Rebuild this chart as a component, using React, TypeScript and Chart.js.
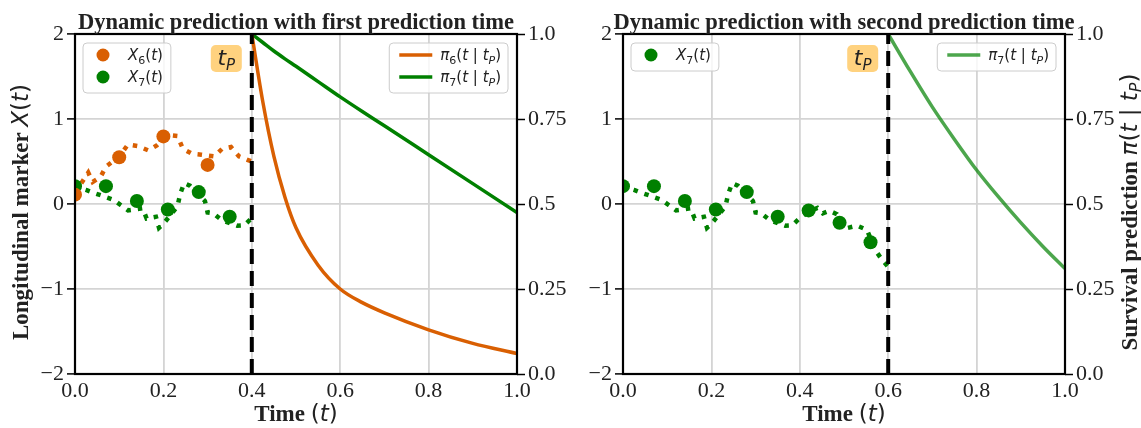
import React, { useEffect, useRef } from 'react';
import { Chart, registerables } from 'chart.js';

Chart.register(...registerables);

// ---- colours & fonts ----
const ORANGE = '#d95f02';
const GREEN = '#008000';
const GREEN_LIGHT = 'rgba(0,128,0,0.7)';
const TEXT = '#222222';
const GRID = '#d4d4d4';
const SERIF = '"Liberation Serif", "Times New Roman", serif';
const SANS = '"DejaVu Sans", sans-serif';

// ---- ticks ----
const TIME_TICKS = [0, 0.2, 0.4, 0.6, 0.8, 1.0];
const TIME_TICK_LABELS = ['0.0', '0.2', '0.4', '0.6', '0.8', '1.0'];
const MARKER_TICKS = [-2, -1, 0, 1, 2];
const MARKER_TICK_LABELS = ['\u22122', '\u22121', '0', '1', '2'];
const SURV_TICKS = [0, 0.25, 0.5, 0.75, 1.0];
const SURV_TICK_LABELS = ['0.0', '0.25', '0.5', '0.75', '1.0'];

// ---- prediction times ----
const T_PRED_FIRST = 0.4;
const T_PRED_SECOND = 0.6;

// ---- observed longitudinal measurements ----
const OBS_T_6 = [0.0, 0.1, 0.2, 0.3];
const OBS_X_6 = [0.11, 0.55, 0.795, 0.46];
const OBS_T_7 = [0.0, 0.07, 0.14, 0.21, 0.28, 0.35, 0.42, 0.49, 0.56];
const OBS_X_7 = [0.21, 0.21, 0.035, -0.065, 0.14, -0.15, -0.075, -0.22, -0.45];

// ---- underlying marker trajectories ----
const PATH_T_6 = [0.0, 0.015, 0.03, 0.04, 0.058, 0.07, 0.085, 0.1, 0.12, 0.143, 0.166, 0.185, 0.2, 0.215, 0.232, 0.244, 0.265, 0.286, 0.315, 0.333, 0.353, 0.371, 0.39, 0.4];
const PATH_X_6 = [0.13, 0.25, 0.37, 0.26, 0.32, 0.44, 0.5, 0.56, 0.7, 0.68, 0.63, 0.69, 0.76, 0.81, 0.8, 0.65, 0.59, 0.58, 0.56, 0.65, 0.67, 0.56, 0.52, 0.5];
const PATH_T_7 = [0.0, 0.016, 0.025, 0.04, 0.06, 0.087, 0.104, 0.12, 0.153, 0.162, 0.183, 0.19, 0.202, 0.232, 0.238, 0.247, 0.26, 0.294, 0.3, 0.313, 0.332, 0.367, 0.383, 0.397, 0.42, 0.44, 0.452, 0.467, 0.484, 0.505, 0.53, 0.552, 0.571, 0.586, 0.6];
const PATH_X_7 = [0.22, 0.18, 0.165, 0.135, 0.1, 0.05, -0.015, -0.075, -0.05, -0.17, -0.15, -0.28, -0.22, -0.025, 0.12, 0.245, 0.215, 0.035, -0.1, -0.11, -0.19, -0.255, -0.25, -0.18, -0.09, -0.045, -0.11, -0.08, -0.12, -0.285, -0.255, -0.305, -0.545, -0.655, -0.74];

// ---- survival predictions ----
const SURV_T_FIRST = [0.4, 0.425, 0.45, 0.475, 0.5, 0.55, 0.6, 0.65, 0.7, 0.8, 0.9, 1.0];
const PI_6_FIRST = [1.0, 0.8, 0.64, 0.52, 0.43, 0.32, 0.25, 0.21, 0.18, 0.13, 0.09, 0.06];
const PI_7_FIRST = [1.0, 0.975, 0.95, 0.927, 0.905, 0.86, 0.815, 0.772, 0.73, 0.645, 0.56, 0.475];
const SURV_T_SECOND = [0.6, 0.65, 0.7, 0.75, 0.8, 0.85, 0.9, 0.95, 1.0];
const PI_7_SECOND = [1.0, 0.89, 0.785, 0.69, 0.6, 0.52, 0.445, 0.375, 0.31];

// ---- rich text helpers (mixed serif / math fonts) ----
type Seg = { s: string; f: string; dy?: number };

const fonts = (size: number) => ({
  rm: `${size}px ${SANS}`,
  it: `italic ${size}px ${SANS}`,
  sub: `${Math.round(size * 0.7)}px ${SANS}`,
  subIt: `italic ${Math.round(size * 0.7)}px ${SANS}`,
  serifBold: `bold ${size}px ${SERIF}`,
});

function segWidth(ctx: CanvasRenderingContext2D, segs: Seg[]) {
  let w = 0;
  for (const g of segs) {
    ctx.font = g.f;
    w += ctx.measureText(g.s).width;
  }
  return w;
}

function drawSegs(
  ctx: CanvasRenderingContext2D,
  segs: Seg[],
  x: number,
  y: number,
  align: 'left' | 'center',
  angle = 0,
) {
  ctx.save();
  ctx.translate(x, y);
  ctx.rotate(angle);
  ctx.fillStyle = TEXT;
  ctx.textAlign = 'left';
  ctx.textBaseline = 'alphabetic';
  let cx = align === 'center' ? -segWidth(ctx, segs) / 2 : 0;
  for (const g of segs) {
    ctx.font = g.f;
    ctx.fillText(g.s, cx, g.dy || 0);
    cx += ctx.measureText(g.s).width;
  }
  ctx.restore();
}

const L = fonts(15);
const markerLabel = (idx: string): Seg[] => [
  { s: 'X', f: L.it },
  { s: idx, f: L.sub, dy: 3.5 },
  { s: '(', f: L.rm },
  { s: 't', f: L.it },
  { s: ')', f: L.rm },
];
const survLabel = (idx: string): Seg[] => [
  { s: '\u03c0', f: L.it },
  { s: idx, f: L.sub, dy: 3.5 },
  { s: '(', f: L.rm },
  { s: 't', f: L.it },
  { s: ' | ', f: L.rm },
  { s: 't', f: L.it },
  { s: 'P', f: L.subIt, dy: 3.5 },
  { s: ')', f: L.rm },
];

const A = fonts(23);
const X_LABEL: Seg[] = [
  { s: 'Time ', f: A.serifBold },
  { s: '(', f: A.rm },
  { s: 't', f: A.it },
  { s: ')', f: A.rm },
];
const Y_LABEL: Seg[] = [
  { s: 'Longitudinal marker ', f: A.serifBold },
  { s: 'X', f: A.it },
  { s: '(', f: A.rm },
  { s: 't', f: A.it },
  { s: ')', f: A.rm },
];
const Y2_LABEL: Seg[] = [
  { s: 'Survival prediction ', f: A.serifBold },
  { s: '\u03c0', f: A.it },
  { s: '(', f: A.rm },
  { s: 't', f: A.it },
  { s: ' | ', f: A.rm },
  { s: 't', f: A.it },
  { s: 'P', f: A.subIt, dy: 4 },
  { s: ')', f: A.rm },
];
const TP_LABEL: Seg[] = [
  { s: 't', f: `italic 22px ${SANS}` },
  { s: 'P', f: `italic 15px ${SANS}`, dy: 5 },
];

function roundRect(ctx: CanvasRenderingContext2D, x: number, y: number, w: number, h: number, r: number) {
  ctx.beginPath();
  ctx.moveTo(x + r, y);
  ctx.lineTo(x + w - r, y);
  ctx.arcTo(x + w, y, x + w, y + r, r);
  ctx.lineTo(x + w, y + h - r);
  ctx.arcTo(x + w, y + h, x + w - r, y + h, r);
  ctx.lineTo(x + r, y + h);
  ctx.arcTo(x, y + h, x, y + h - r, r);
  ctx.lineTo(x, y + r);
  ctx.arcTo(x, y, x + r, y, r);
  ctx.closePath();
}

type Series = { t: number[]; v: number[]; color: string; label: Seg[] };
type PanelSpec = {
  left: number;
  width: number;
  yWidth: number;
  y2Width: number;
  title: string;
  tPred: number;
  obs: Series[];
  paths: { t: number[]; v: number[]; color: string }[];
  surv: Series[];
  yTitle: boolean;
  y2Title: boolean;
};

const pts = (ts: number[], vs: number[]) => ts.map((t, i) => ({ x: t, y: vs[i] }));

const gridColor = (min: number, max: number) => (c: any) =>
  c.tick && (Math.abs(c.tick.value - min) < 1e-9 || Math.abs(c.tick.value - max) < 1e-9)
    ? 'rgba(0,0,0,0)'
    : GRID;

function decorPlugin(spec: PanelSpec) {
  return {
    id: 'panelDecor',
    afterDatasetsDraw(chart: any) {
      const { ctx, chartArea: a } = chart;
      ctx.save();
      ctx.strokeStyle = '#000';
      ctx.lineWidth = 2.2;
      ctx.strokeRect(a.left, a.top, a.right - a.left, a.bottom - a.top);
      ctx.restore();
    },
    afterDraw(chart: any) {
      const { ctx, chartArea: a, scales } = chart;
      const midX = (a.left + a.right) / 2;
      const midY = (a.top + a.bottom) / 2;

      // title
      ctx.save();
      ctx.font = `bold 22.5px ${SERIF}`;
      ctx.fillStyle = TEXT;
      ctx.textAlign = 'center';
      ctx.textBaseline = 'alphabetic';
      ctx.fillText(spec.title, midX, 29);
      ctx.restore();

      // axis titles
      drawSegs(ctx, X_LABEL, midX, 421, 'center');
      if (spec.yTitle) drawSegs(ctx, Y_LABEL, 28, midY + 8, 'center', -Math.PI / 2);
      if (spec.y2Title) drawSegs(ctx, Y2_LABEL, chart.width - 4, midY + 8, 'center', -Math.PI / 2);

      // prediction-time tag
      const px = scales.x.getPixelForValue(spec.tPred);
      ctx.save();
      ctx.fillStyle = 'rgba(255,165,0,0.5)';
      roundRect(ctx, px - 41, a.top + 11, 31, 27, 5);
      ctx.fill();
      ctx.restore();
      drawSegs(ctx, TP_LABEL, px - 25.5, a.top + 31, 'center');

      // marker legend (top-left)
      {
        const top = a.top + 9;
        const left = a.left + 8;
        const tw = Math.max(...spec.obs.map((o) => segWidth(ctx, o.label)));
        const w = 45 + tw + 8;
        const h = 6 + spec.obs.length * 22;
        ctx.save();
        roundRect(ctx, left, top, w, h, 4);
        ctx.fillStyle = 'rgba(255,255,255,0.8)';
        ctx.fill();
        ctx.strokeStyle = '#cccccc';
        ctx.lineWidth = 1;
        ctx.stroke();
        spec.obs.forEach((o, i) => {
          const cy = top + 12 + i * 22;
          ctx.beginPath();
          ctx.arc(left + 20, cy, 6.5, 0, Math.PI * 2);
          ctx.fillStyle = o.color;
          ctx.fill();
          drawSegs(ctx, o.label, left + 45, cy + 5, 'left');
        });
        ctx.restore();
      }

      // survival legend (top-right)
      {
        const top = a.top + 9;
        const tw = Math.max(...spec.surv.map((o) => segWidth(ctx, o.label)));
        const w = 51 + tw + 7;
        const left = a.right - 9 - w;
        const h = 6 + spec.surv.length * 22;
        ctx.save();
        roundRect(ctx, left, top, w, h, 4);
        ctx.fillStyle = 'rgba(255,255,255,0.8)';
        ctx.fill();
        ctx.strokeStyle = '#cccccc';
        ctx.lineWidth = 1;
        ctx.stroke();
        spec.surv.forEach((o, i) => {
          const cy = top + 12 + i * 22;
          ctx.beginPath();
          ctx.moveTo(left + 10, cy);
          ctx.lineTo(left + 43, cy);
          ctx.strokeStyle = o.color;
          ctx.lineWidth = 3.5;
          ctx.stroke();
          drawSegs(ctx, o.label, left + 51, cy + 5, 'left');
        });
        ctx.restore();
      }
    },
  };
}

function buildConfig(spec: PanelSpec): any {
  const datasets: any[] = [];
  datasets.push({
    data: [
      { x: spec.tPred, y: -2 },
      { x: spec.tPred, y: 2 },
    ],
    showLine: true,
    borderColor: '#000',
    borderWidth: 4,
    borderDash: [15, 7],
    borderCapStyle: 'butt',
    pointRadius: 0,
    yAxisID: 'y',
    order: 0,
  });
  spec.obs.forEach((o) =>
    datasets.push({
      data: pts(o.t, o.v),
      showLine: false,
      pointRadius: 7,
      pointBorderWidth: 0,
      backgroundColor: o.color,
      borderColor: o.color,
      yAxisID: 'y',
      clip: 0,
      order: 1,
    }),
  );
  spec.surv.forEach((o) =>
    datasets.push({
      data: pts(o.t, o.v),
      showLine: true,
      borderColor: o.color,
      borderWidth: 3.5,
      pointRadius: 0,
      cubicInterpolationMode: 'monotone',
      yAxisID: 'y2',
      order: 2,
    }),
  );
  spec.paths.forEach((p) =>
    datasets.push({
      data: pts(p.t, p.v),
      showLine: true,
      borderColor: p.color,
      borderWidth: 4.5,
      borderDash: [4.5, 7],
      borderCapStyle: 'butt',
      pointRadius: 0,
      yAxisID: 'y',
      order: 3,
    }),
  );

  const tickFont = { family: SERIF, size: 22 };
  return {
    type: 'scatter',
    data: { datasets },
    plugins: [decorPlugin(spec)],
    options: {
      animation: false,
      responsive: false,
      devicePixelRatio: 1,
      events: [],
      layout: { padding: { top: 34, left: 0, right: 0, bottom: 0 } },
      plugins: { legend: { display: false }, tooltip: { enabled: false }, title: { display: false } },
      scales: {
        x: {
          type: 'linear',
          min: 0,
          max: 1,
          afterBuildTicks: (s: any) => {
            s.ticks = TIME_TICKS.map((v) => ({ value: v }));
          },
          afterFit: (s: any) => {
            s.height = 428 - 374;
          },
          grid: { color: gridColor(0, 1), lineWidth: 1.8, drawTicks: false },
          border: { display: false },
          ticks: {
            font: tickFont,
            color: TEXT,
            padding: 4,
            maxRotation: 0,
            autoSkip: false,
            callback: (_v: any, i: number) => TIME_TICK_LABELS[i],
          },
        },
        y: {
          type: 'linear',
          position: 'left',
          min: -2,
          max: 2,
          afterBuildTicks: (s: any) => {
            s.ticks = MARKER_TICKS.map((v) => ({ value: v }));
          },
          afterFit: (s: any) => {
            s.width = spec.yWidth;
          },
          grid: { color: gridColor(-2, 2), lineWidth: 1.8, tickLength: 8, tickColor: '#000', tickWidth: 1.5 },
          border: { display: false },
          ticks: {
            font: tickFont,
            color: TEXT,
            padding: 3,
            callback: (_v: any, i: number) => MARKER_TICK_LABELS[i],
          },
        },
        y2: {
          type: 'linear',
          position: 'right',
          min: 0,
          max: 1,
          afterBuildTicks: (s: any) => {
            s.ticks = SURV_TICKS.map((v) => ({ value: v }));
          },
          afterFit: (s: any) => {
            s.width = spec.y2Width;
          },
          grid: { drawOnChartArea: false, tickLength: 8, tickColor: '#000', tickWidth: 1.5 },
          border: { display: false },
          ticks: {
            font: tickFont,
            color: TEXT,
            padding: 3,
            callback: (_v: any, i: number) => SURV_TICK_LABELS[i],
          },
        },
      },
    },
  };
}

const upTo = (ts: number[], vs: number[], tMax: number) => {
  const t: number[] = [];
  const v: number[] = [];
  ts.forEach((x, i) => {
    if (x <= tMax + 1e-9) {
      t.push(x);
      v.push(vs[i]);
    }
  });
  return { t, v };
};

const obs7First = upTo(OBS_T_7, OBS_X_7, T_PRED_FIRST);
const path7First = upTo(PATH_T_7, PATH_X_7, T_PRED_FIRST);

const FIRST: PanelSpec = {
  left: 0,
  width: 570,
  yWidth: 75,
  y2Width: 53,
  title: 'Dynamic prediction with first prediction time',
  tPred: T_PRED_FIRST,
  obs: [
    { t: OBS_T_6, v: OBS_X_6, color: ORANGE, label: markerLabel('6') },
    { t: obs7First.t, v: obs7First.v, color: GREEN, label: markerLabel('7') },
  ],
  paths: [
    { t: PATH_T_6, v: PATH_X_6, color: ORANGE },
    { t: path7First.t, v: path7First.v, color: GREEN },
  ],
  surv: [
    { t: SURV_T_FIRST, v: PI_6_FIRST, color: ORANGE, label: survLabel('6') },
    { t: SURV_T_FIRST, v: PI_7_FIRST, color: GREEN, label: survLabel('7') },
  ],
  yTitle: true,
  y2Title: false,
};

const SECOND: PanelSpec = {
  left: 570,
  width: 571,
  yWidth: 53,
  y2Width: 76,
  title: 'Dynamic prediction with second prediction time',
  tPred: T_PRED_SECOND,
  obs: [{ t: OBS_T_7, v: OBS_X_7, color: GREEN, label: markerLabel('7') }],
  paths: [{ t: PATH_T_7, v: PATH_X_7, color: GREEN }],
  surv: [{ t: SURV_T_SECOND, v: PI_7_SECOND, color: GREEN_LIGHT, label: survLabel('7') }],
  yTitle: false,
  y2Title: true,
};

function Panel({ spec }: { spec: PanelSpec }) {
  const ref = useRef<HTMLCanvasElement>(null);
  useEffect(() => {
    const chart = new Chart(ref.current as HTMLCanvasElement, buildConfig(spec));
    return () => chart.destroy();
  }, [spec]);
  return (
    <canvas
      ref={ref}
      width={spec.width}
      height={428}
      style={{ position: 'absolute', left: spec.left, top: 0, width: spec.width, height: 428 }}
    />
  );
}

export default function App() {
  return (
    <div style={{ position: 'fixed', left: 0, top: 0, width: 1141, height: 428, background: '#fff' }}>
      <Panel spec={FIRST} />
      <Panel spec={SECOND} />
    </div>
  );
}
